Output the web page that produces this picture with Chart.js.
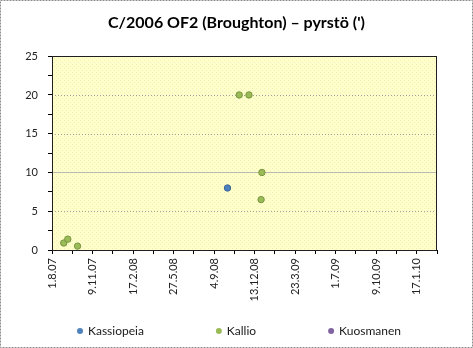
<!DOCTYPE html>
<html lang="fi">
<head>
    <meta charset="UTF-8">
    <title>C/2006 OF2 (Broughton) – pyrstö</title>
    <style>
        html, body {
            margin: 0;
            padding: 0;
            background: #fff;
        }

        .chart-container {
            position: relative;
            width: 473px;
            height: 348px;
        }
    </style>
</head>
<body>
    <div class="chart-container">
        <canvas id="tailChart"></canvas>
    </div>

    <script src="https://cdn.jsdelivr.net/npm/chart.js@4"></script>

    <script>
        // Observers and their colours
        const seriesNames = ['Kassiopeia', 'Kallio', 'Kuosmanen'];
        const seriesColors = ['#4F81BD', '#9BBB59', '#8064A2'];
        const seriesBorders = ['#3A6596', '#78963F', '#5F4A7D'];

        // Tail length in arcminutes, dates as d.m.yy
        const kassiopeiaDates = ['7.10.08'];
        const kassiopeiaTail = [8];
        const kallioDates = ['30.8.07', '9.9.07', '3.10.07', '5.11.08', '29.11.08', '29.12.08', '31.12.08'];
        const kallioTail = [0.9, 1.4, 0.5, 20, 20, 6.5, 10];
        const kuosmanenDates = [];
        const kuosmanenTail = [];

        // Date axis labels (every 100 days)
        const xTickLabels = ['1.8.07', '9.11.07', '17.2.08', '27.5.08', '4.9.08',
            '13.12.08', '23.3.09', '1.7.09', '9.10.09', '17.1.10'];
        const yMax = 25;
        const yStep = 5;

        // d.m.yy -> day number
        function dayNumber(s) {
            const [d, m, y] = s.split('.').map(Number);
            return Date.UTC(2000 + y, m - 1, d) / 86400000;
        }

        function toPoints(dates, values) {
            return dates.map((d, i) => ({ x: dayNumber(d), y: values[i] }));
        }

        const xMin = dayNumber(xTickLabels[0]);
        const xStep = dayNumber(xTickLabels[1]) - xMin;
        const xMax = xMin + (xTickLabels.length - 0.5) * xStep;

        // pale yellow dotted fill for the plot area
        function makePattern(ctx) {
            const c = document.createElement('canvas');
            c.width = 4;
            c.height = 4;
            const p = c.getContext('2d');
            p.fillStyle = '#FFFFCC';
            p.fillRect(0, 0, 4, 4);
            p.fillStyle = '#F4F1B0';
            p.fillRect(0, 0, 1, 1);
            p.fillRect(2, 2, 1, 1);
            return ctx.createPattern(c, 'repeat');
        }

        const framePlugin = {
            id: 'frame',
            beforeDraw(chart) {
                const ctx = chart.ctx;
                ctx.save();
                ctx.fillStyle = '#fff';
                ctx.fillRect(0, 0, chart.width, chart.height);
                ctx.strokeStyle = '#8C8C8C';
                ctx.lineWidth = 1;
                ctx.setLineDash([2, 1]);
                ctx.strokeRect(0.5, 0.5, chart.width - 1, chart.height - 1);
                ctx.restore();
            },
            beforeDatasetsDraw(chart) {
                const { ctx, chartArea: a, scales: { y } } = chart;
                ctx.save();
                ctx.fillStyle = makePattern(ctx);
                ctx.fillRect(a.left, a.top, a.right - a.left, a.bottom - a.top);
                // horizontal gridlines
                for (let v = yStep; v < yMax; v += yStep) {
                    const py = Math.round(y.getPixelForValue(v)) + 0.5;
                    ctx.beginPath();
                    if (v === 10) {
                        ctx.setLineDash([]);
                        ctx.strokeStyle = '#B8B8B0';
                    } else {
                        ctx.setLineDash([1, 2]);
                        ctx.strokeStyle = '#A0A0A0';
                    }
                    ctx.lineWidth = 1;
                    ctx.moveTo(a.left, py);
                    ctx.lineTo(a.right, py);
                    ctx.stroke();
                }
                ctx.restore();
            },
            afterDatasetsDraw(chart) {
                const { ctx, chartArea: a } = chart;
                ctx.save();
                ctx.strokeStyle = '#202020';
                ctx.lineWidth = 1;
                ctx.strokeRect(Math.round(a.left) + 0.5, Math.round(a.top) + 0.5,
                    Math.round(a.right - a.left) - 1, Math.round(a.bottom - a.top));
                ctx.restore();
            },
            afterDraw(chart) {
                // legend row
                const ctx = chart.ctx;
                const sets = chart.data.datasets;
                ctx.save();
                ctx.font = '12px Lato';
                ctx.textBaseline = 'middle';
                const gap = 75, textOff = 8;
                const widths = sets.map(s => ctx.measureText(s.label).width);
                const total = widths.reduce((s, w) => s + w + textOff, 0) + gap * (sets.length - 1);
                let x = chart.width / 2 + 4 - total / 2;
                const yPos = 331;
                sets.forEach((s, i) => {
                    ctx.beginPath();
                    ctx.arc(x, yPos, 3, 0, Math.PI * 2);
                    ctx.fillStyle = s.backgroundColor;
                    ctx.fill();
                    ctx.fillStyle = '#1A1A1A';
                    ctx.fillText(s.label, x + textOff, yPos);
                    x += textOff + widths[i] + gap;
                });
                ctx.restore();
            }
        };

        const ctx = document.getElementById('tailChart').getContext('2d');
        const allDates = [kassiopeiaDates, kallioDates, kuosmanenDates];
        const allTails = [kassiopeiaTail, kallioTail, kuosmanenTail];

        const tailChart = new Chart(ctx, {
            type: 'scatter',
            data: {
                datasets: seriesNames.map((name, i) => ({
                    label: name,
                    data: toPoints(allDates[i], allTails[i]),
                    backgroundColor: seriesColors[i],
                    borderColor: seriesBorders[i],
                    borderWidth: 1,
                    pointRadius: 3.2,
                    pointHoverRadius: 3.2
                }))
            },
            options: {
                responsive: true,
                maintainAspectRatio: false,
                animation: false,
                layout: {
                    padding: { left: 0, right: 0, top: 0, bottom: 38 }
                },
                plugins: {
                    legend: { display: false },
                    tooltip: { enabled: false },
                    title: {
                        display: true,
                        text: "C/2006 OF2 (Broughton) – pyrstö (')",
                        color: '#000',
                        font: { family: 'Lato', size: 16, weight: 'bold' },
                        padding: { top: 13, bottom: 24 }
                    }
                },
                scales: {
                    x: {
                        type: 'linear',
                        min: xMin,
                        max: xMax,
                        afterBuildTicks(scale) {
                            const ticks = [];
                            for (let v = xMin; v <= xMax + 0.01; v += xStep / 2) {
                                ticks.push({ value: v });
                            }
                            scale.ticks = ticks;
                        },
                        afterFit(scale) {
                            scale.height = 60;
                        },
                        grid: {
                            drawOnChartArea: false,
                            drawTicks: true,
                            tickLength: 4,
                            color: '#000'
                        },
                        border: { color: '#000', width: 1 },
                        ticks: {
                            autoSkip: false,
                            minRotation: 90,
                            maxRotation: 90,
                            padding: 4,
                            color: '#222',
                            font: { family: 'Lato', size: 11 },
                            callback: (value, index) => index % 2 === 0 ? xTickLabels[index / 2] : ''
                        }
                    },
                    y: {
                        min: 0,
                        max: yMax,
                        afterFit(scale) {
                            scale.width = 52;
                        },
                        grid: {
                            drawOnChartArea: false,
                            drawTicks: true,
                            tickLength: 4,
                            color: '#000'
                        },
                        border: { color: '#000', width: 1 },
                        ticks: {
                            stepSize: yStep / 2,
                            padding: 10,
                            color: '#222',
                            font: { family: 'Lato', size: 11 },
                            callback: v => v % yStep === 0 ? v : ''
                        }
                    },
                    // empty right-hand axis keeps a margin beside the plot
                    yRight: {
                        position: 'right',
                        min: 0,
                        max: yMax,
                        afterFit(scale) {
                            scale.width = 36;
                        },
                        grid: { display: false, drawTicks: false },
                        border: { display: false },
                        ticks: { display: false }
                    }
                }
            },
            plugins: [framePlugin]
        });
    </script>
</body>
</html>
